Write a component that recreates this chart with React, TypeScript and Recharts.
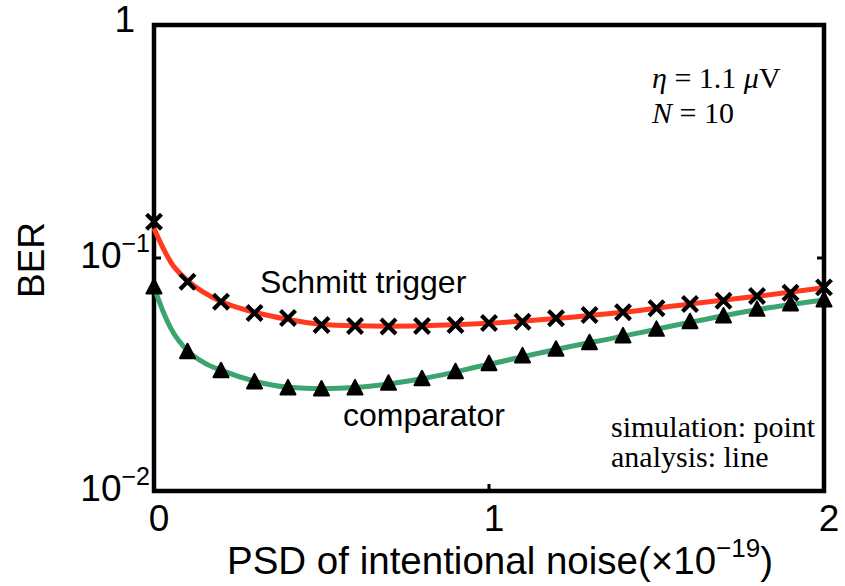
import { ComposedChart, Line, Scatter, XAxis, YAxis, ReferenceArea } from 'recharts';

// simulated points (x = PSD in 1e-19 units)
const psd = [0, 0.1, 0.2, 0.3, 0.4, 0.5, 0.6, 0.7, 0.8, 0.9, 1.0, 1.1, 1.2, 1.3, 1.4, 1.5, 1.6, 1.7, 1.8, 1.9, 2.0];
const schmittSim = [0.143, 0.0791, 0.0649, 0.0581, 0.0553, 0.0516, 0.0511, 0.0508, 0.0511, 0.0516, 0.0526, 0.0533, 0.0551, 0.0569, 0.0585, 0.0608, 0.0635, 0.0656, 0.0687, 0.071, 0.0748];
const comparatorSim = [0.0751, 0.0396, 0.0328, 0.0294, 0.0277, 0.0274, 0.0277, 0.029, 0.0303, 0.0325, 0.0352, 0.038, 0.0406, 0.0433, 0.0463, 0.0494, 0.0533, 0.0564, 0.0602, 0.0635, 0.066];

// analysis curves
const psdLine = [0, 0.025, 0.05, 0.1, 0.15, 0.2, 0.3, 0.4, 0.5, 0.6, 0.7, 0.8, 1.0, 1.2, 1.4, 1.6, 1.8, 2.0];
const schmittLine = [0.134, 0.112, 0.096, 0.08, 0.071, 0.065, 0.0585, 0.0545, 0.052, 0.0512, 0.051, 0.0512, 0.0525, 0.055, 0.0585, 0.0635, 0.0685, 0.0745];
const comparatorLine = [0.075, 0.06, 0.05, 0.04, 0.0355, 0.033, 0.0296, 0.0279, 0.0275, 0.0278, 0.0288, 0.0303, 0.035, 0.0405, 0.0462, 0.053, 0.06, 0.066];

const xTicks = [0, 1, 2];
const yTicks = [0.01, 0.1, 1];

const toPts = (xs: number[], ys: number[]) => xs.map((x, i) => ({ x, y: ys[i] }));

const SANS = '"Liberation Sans", Arial, Helvetica, sans-serif';
const SERIF = '"Liberation Serif", "Times New Roman", serif';

const Cross = ({ cx, cy }: any) => (
  <path
    d={`M${cx - 7.5},${cy - 7.5}L${cx + 7.5},${cy + 7.5}M${cx - 7.5},${cy + 7.5}L${cx + 7.5},${cy - 7.5}`}
    stroke="#000" strokeWidth={4.2} fill="none"
  />
);

const Tri = ({ cx, cy }: any) => (
  <path
    d={`M${cx},${cy - 8}L${cx + 7.5},${cy + 6.5}L${cx - 7.5},${cy + 6.5}Z`}
    fill="#000" stroke="#000" strokeWidth={2} strokeLinejoin="round"
  />
);

const LeftTick = ({ x, y, payload }: any) => {
  const v = payload.value;
  const exp = Math.round(Math.log10(v));
  return (
    <g>
      <line x1={x} x2={x + 7} y1={y} y2={y} stroke="#000" strokeWidth={3} />
      {exp === 0 ? (
        <text x={x - 19} y={y + 7} textAnchor="end" fontFamily={SANS} fontSize={37} fill="#000">1</text>
      ) : (
        <text x={x - 4} y={y + 10} textAnchor="end" fontFamily={SANS} fontSize={37} fill="#000">
          <tspan>10</tspan>
          <tspan dy={-16} fontSize={25}>{`\u2212${-exp}`}</tspan>
        </text>
      )}
    </g>
  );
};

const RightTick = ({ x, y }: any) => (
  <line x1={x} x2={x - 7} y1={y} y2={y} stroke="#000" strokeWidth={3} />
);

const BottomTick = ({ x, y, payload }: any) => (
  <g>
    <line x1={x} x2={x} y1={y} y2={y - 7} stroke="#000" strokeWidth={3} />
    <text x={x + 5} y={y + 40} textAnchor="middle" fontFamily={SANS} fontSize={37} fill="#000">
      {payload.value}
    </text>
  </g>
);

const TopTick = ({ x, y }: any) => (
  <line x1={x} x2={x} y1={y} y2={y + 7} stroke="#000" strokeWidth={3} />
);

export default function App() {
  return (
    <div style={{ position: 'absolute', left: 0, top: 0, width: 845, height: 586, background: '#fff' }}>
      <ComposedChart width={845} height={586} margin={{ top: 24, right: 20, bottom: 55, left: 54 }}>
        <XAxis
          dataKey="x" type="number" domain={[0, 2]} ticks={xTicks}
          axisLine={false} tickLine={false} tickSize={0} tickMargin={0} height={40}
          tick={<BottomTick />} interval={0}
        />
        <XAxis
          xAxisId="top" orientation="top" dataKey="x" type="number" domain={[0, 2]} ticks={[1]}
          axisLine={false} tickLine={false} tickSize={0} tickMargin={0} height={1}
          tick={<TopTick />} interval={0}
        />
        <YAxis
          dataKey="y" type="number" scale="log" domain={[0.01, 1]} ticks={yTicks} allowDataOverflow
          axisLine={false} tickLine={false} tickSize={0} tickMargin={0} width={100}
          tick={<LeftTick />} interval={0}
        />
        <YAxis
          yAxisId="right" orientation="right" dataKey="y" type="number" scale="log" domain={[0.01, 1]}
          ticks={[0.1]} allowDataOverflow
          axisLine={false} tickLine={false} tickSize={0} tickMargin={0} width={1}
          tick={<RightTick />} interval={0}
        />

        <Line data={toPts(psdLine, schmittLine)} dataKey="y" type="monotone" stroke="#FF3A1E"
          strokeWidth={5} dot={false} isAnimationActive={false} />
        <Line data={toPts(psdLine, comparatorLine)} dataKey="y" type="monotone" stroke="#3CA56F"
          strokeWidth={5} dot={false} isAnimationActive={false} />

        <Scatter data={toPts(psd, schmittSim)} dataKey="y" shape={<Cross />} isAnimationActive={false} />
        <Scatter data={toPts(psd, comparatorSim)} dataKey="y" shape={<Tri />} isAnimationActive={false} />

        <ReferenceArea x1={0} x2={2} y1={0.01} y2={1} fill="none" stroke="#000" strokeWidth={4.5} />
      </ComposedChart>

      <svg width={845} height={586} style={{ position: 'absolute', left: 0, top: 0, pointerEvents: 'none' }}>
        <text transform="translate(44,260) rotate(-90)" textAnchor="middle" fontFamily={SANS} fontSize={37}>BER</text>
        <text x={500} y={574} textAnchor="middle" fontFamily={SANS} fontSize={38.5}>
          <tspan>PSD of intentional noise(×10</tspan>
          <tspan dy={-17} fontSize={26}>−19</tspan>
          <tspan dy={17}>)</tspan>
        </text>
        <text x={260} y={293} fontFamily={SANS} fontSize={32}>Schmitt trigger</text>
        <text x={343} y={426} fontFamily={SANS} fontSize={32}>comparator</text>

        <text x={652} y={88} fontFamily={SERIF} fontSize={30}>
          <tspan fontStyle="italic">η</tspan> = 1.1 <tspan fontStyle="italic">μ</tspan>V
        </text>
        <text x={652} y={123} fontFamily={SERIF} fontSize={30}>
          <tspan fontStyle="italic">N</tspan> = 10
        </text>
        <text x={611} y={437} fontFamily={SERIF} fontSize={30}>simulation: point</text>
        <text x={611} y={467} fontFamily={SERIF} fontSize={30}>analysis: line</text>
      </svg>
    </div>
  );
}
